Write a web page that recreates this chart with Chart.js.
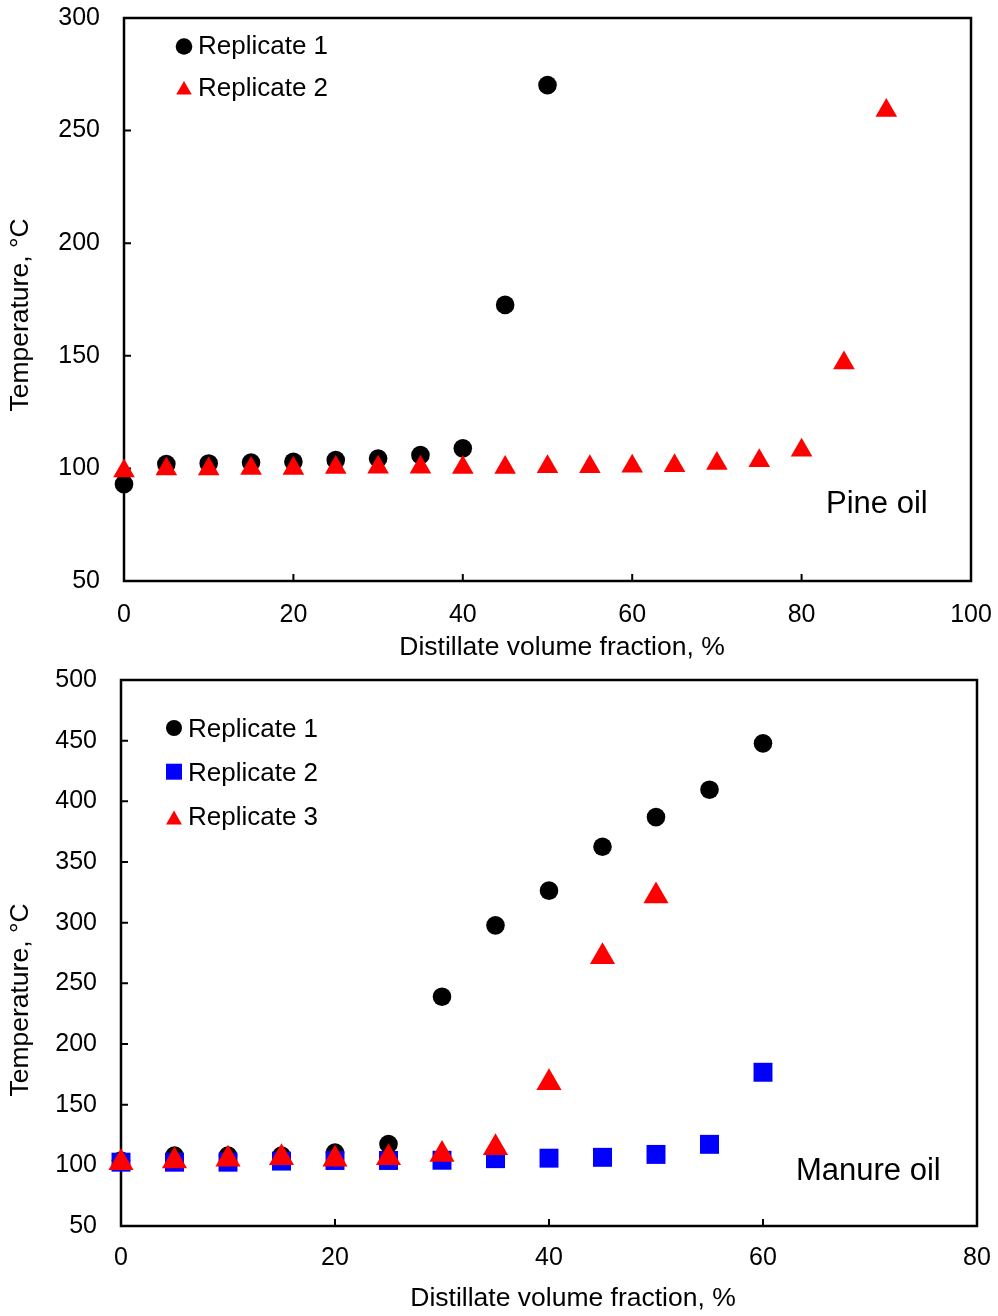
<!DOCTYPE html>
<html>
<head>
  <meta charset="UTF-8">
  <title>Distillation curves</title>
  <script src="https://cdn.jsdelivr.net/npm/chart.js"></script>
  <style>
    body { margin: 0; background: #fff; }
    canvas { position: absolute; left: 0; }
  </style>
</head>
<body>
  <canvas id="pine" width="998" height="660" style="top:0"></canvas>
  <canvas id="manure" width="998" height="656" style="top:660px"></canvas>

  <script>
    // pine oil
    const pineX1 = [0, 5, 10, 15, 20, 25, 30, 35, 40, 45, 50];
    const pineRep1 = [93, 101.9, 102.2, 102.6, 102.9, 103.7, 104.4, 105.9, 108.9, 172.6, 270.2];
    const pineX2 = [0, 5, 10, 15, 20, 25, 30, 35, 40, 45, 50, 55, 60, 65, 70, 75, 80, 85, 90];
    const pineRep2 = [98.8, 99.7, 99.7, 100, 100, 100.4, 100.5, 100.5, 100.4, 100.4, 100.7, 100.7, 101, 101.2, 102.2, 103.4, 108.1, 146.8, 258.9];
    const pineXTicks = [0, 20, 40, 60, 80, 100];
    const pineYTicks = [50, 100, 150, 200, 250, 300];

    // manure oil
    const manureX = [0, 5, 10, 15, 20, 25, 30, 35, 40, 45, 50, 55, 60];
    const manureRep1 = [104, 108, 108, 108, 110.5, 117.6, 239, 297.8, 326.4, 362.6, 387, 409.6, 447.8];
    const manureRep2 = [102.6, 102.6, 102.6, 103.5, 104, 104, 104.2, 105.5, 105.9, 106.6, 109, 117.3, 176.7];
    const manureX3 = [0, 5, 10, 15, 20, 25, 30, 35, 40, 45, 50];
    const manureRep3 = [102.2, 103.6, 105, 106.3, 105, 106.3, 109, 114.5, 168, 272, 322];
    const manureXTicks = [0, 20, 40, 60, 80];
    const manureYTicks = [50, 100, 150, 200, 250, 300, 350, 400, 450, 500];

    const xTitle = 'Distillate volume fraction, %';
    const yTitle = 'Temperature, °C';

    const FONT = '"Liberation Sans", Arial, Helvetica, sans-serif';
    Chart.defaults.font.family = FONT;
    Chart.defaults.color = '#000';

    const pts = (xs, ys) => xs.map((x, i) => ({ x: x, y: ys[i] }));

    function marker(ctx, style, r, x, y) {
      if (Chart.helpers && Chart.helpers.drawPoint) {
        Chart.helpers.drawPoint(ctx, { pointStyle: style, radius: r, rotation: 0, borderWidth: 0 }, x, y);
        return;
      }
      ctx.beginPath();
      if (style === 'circle') ctx.arc(x, y, r, 0, Math.PI * 2);
      else if (style === 'rect') { const s = r * Math.SQRT1_2; ctx.rect(x - s, y - s, 2 * s, 2 * s); }
      else { ctx.moveTo(x, y - r); ctx.lineTo(x + r * 0.866, y + r / 2); ctx.lineTo(x - r * 0.866, y + r / 2); ctx.closePath(); }
      ctx.fill();
    }

    // box, inward ticks, titles, legend and the oil label
    const decor = {
      id: 'decor',
      beforeDatasetsDraw(chart, args, o) {
        const ctx = chart.ctx, a = chart.chartArea;
        const xs = chart.scales.x, ys = chart.scales.y;
        ctx.save();
        ctx.strokeStyle = '#000';
        ctx.lineWidth = 2.5;
        ctx.strokeRect(a.left, a.top, a.right - a.left, a.bottom - a.top);
        ctx.lineWidth = 2;
        ctx.beginPath();
        xs.ticks.forEach(t => {
          const px = xs.getPixelForValue(t.value);
          ctx.moveTo(px, a.bottom); ctx.lineTo(px, a.bottom - 7);
        });
        ys.ticks.forEach(t => {
          const py = ys.getPixelForValue(t.value);
          ctx.moveTo(a.left, py); ctx.lineTo(a.left + 7, py);
        });
        ctx.stroke();
        ctx.restore();
      },
      afterDraw(chart, args, o) {
        const ctx = chart.ctx;
        ctx.save();
        ctx.fillStyle = '#000';
        ctx.font = '26.5px ' + FONT;
        ctx.textAlign = 'center';
        ctx.textBaseline = 'alphabetic';
        ctx.fillText(xTitle, o.xTitle[0], o.xTitle[1]);
        ctx.save();
        ctx.translate(o.yTitle[0], o.yTitle[1]);
        ctx.rotate(-Math.PI / 2);
        ctx.textBaseline = 'middle';
        ctx.fillText(yTitle, 0, 0);
        ctx.restore();

        ctx.textAlign = 'left';
        ctx.font = '26px ' + FONT;
        chart.data.datasets.forEach((ds, i) => {
          const it = o.legend[i];
          ctx.fillStyle = ds.pointBackgroundColor;
          marker(ctx, ds.pointStyle, it.r, o.legendX, it.my);
          ctx.fillStyle = '#000';
          ctx.fillText(ds.label, o.legendX + 14, it.ty);
        });

        ctx.font = '31px ' + FONT;
        ctx.fillText(o.note, o.noteAt[0], o.noteAt[1]);
        ctx.restore();
      }
    };

    function series(label, xs, ys, color, style, r, order) {
      return {
        label: label, data: pts(xs, ys), order: order, clip: false,
        pointStyle: style, pointRadius: r, pointHoverRadius: r,
        pointBackgroundColor: color, pointBorderWidth: 0, borderWidth: 0,
        backgroundColor: color, showLine: false
      };
    }

    function axis(ticks, pos, fitSize, pad) {
      return {
        type: 'linear', position: pos,
        min: ticks[0], max: ticks[ticks.length - 1],
        afterBuildTicks: s => { s.ticks = ticks.map(v => ({ value: v })); },
        afterFit: s => {
          if (pos === 'left') s.width = fitSize; else s.height = fitSize;
          s.paddingTop = 0; s.paddingBottom = 0; s.paddingLeft = 0; s.paddingRight = 0;
        },
        grid: { display: false, drawTicks: false },
        border: { display: false },
        ticks: { font: { size: 25 }, color: '#000', padding: pad, autoSkip: false, maxRotation: 0 }
      };
    }

    new Chart(document.getElementById('pine'), {
      type: 'scatter',
      data: {
        datasets: [
          series('Replicate 1', pineX1, pineRep1, '#000000', 'circle', 9.3, 2),
          series('Replicate 2', pineX2, pineRep2, '#FF0000', 'triangle', 12.5, 1)
        ]
      },
      options: {
        responsive: false, animation: false, devicePixelRatio: 1,
        layout: { padding: { top: 18, right: 27, left: 0, bottom: 0 } },
        scales: {
          x: axis(pineXTicks, 'bottom', 79, 19),
          y: axis(pineYTicks, 'left', 124, 24)
        },
        plugins: {
          legend: { display: false },
          tooltip: { enabled: false },
          decor: {
            xTitle: [562, 655], yTitle: [21, 315],
            legendX: 184,
            legend: [{ r: 8.3, my: 46.5, ty: 54 }, { r: 9, my: 90, ty: 96 }],
            note: 'Pine oil', noteAt: [826, 513]
          }
        }
      },
      plugins: [decor]
    });

    new Chart(document.getElementById('manure'), {
      type: 'scatter',
      data: {
        datasets: [
          series('Replicate 1', manureX, manureRep1, '#000000', 'circle', 9.3, 3),
          series('Replicate 2', manureX, manureRep2, '#0000FF', 'rect', 13.4, 2),
          series('Replicate 3', manureX3, manureRep3, '#FF0000', 'triangle', 14.5, 1)
        ]
      },
      options: {
        responsive: false, animation: false, devicePixelRatio: 1,
        layout: { padding: { top: 20, right: 21, left: 0, bottom: 0 } },
        scales: {
          x: axis(manureXTicks, 'bottom', 90, 17),
          y: axis(manureYTicks, 'left', 121, 24)
        },
        plugins: {
          legend: { display: false },
          tooltip: { enabled: false },
          decor: {
            xTitle: [573, 646], yTitle: [21, 340],
            legendX: 174,
            legend: [{ r: 8, my: 68, ty: 77 }, { r: 11.3, my: 111.7, ty: 121 }, { r: 9.2, my: 159.8, ty: 165 }],
            note: 'Manure oil', noteAt: [796, 520]
          }
        }
      },
      plugins: [decor]
    });
  </script>
</body>
</html>
